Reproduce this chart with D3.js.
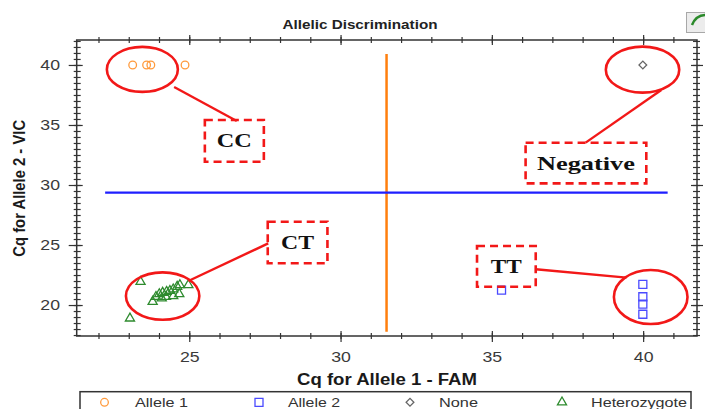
<!DOCTYPE html>
<html><head><meta charset="utf-8">
<script src="https://cdn.jsdelivr.net/npm/d3@7/dist/d3.min.js"></script>
<style>html,body{margin:0;padding:0;background:#fff;overflow:hidden}</style>
</head><body><svg id="c" width="705" height="409"></svg>
<script>
// ---------------- data ----------------
const seriesNames = ["Allele 1", "Allele 2", "None", "Heterozygote"];
const allele1X = [23.13, 23.59, 23.73, 24.86];
const allele1Y = [40.0, 40.0, 40.0, 40.0];
const allele2X = [35.32, 39.99, 39.99, 39.99, 39.99];
const allele2Y = [21.25, 21.72, 20.69, 20.08, 19.23];
const noneX = [39.99];
const noneY = [40.0];
const hetX = [23.39, 23.04, 23.79, 23.90, 24.01, 24.12, 24.25, 24.36, 24.47, 24.60, 24.69, 24.97, 24.09, 24.47, 24.67, 24.23];
const hetY = [21.94, 18.89, 20.28, 20.69, 20.92, 21.03, 21.11, 21.19, 21.31, 21.53, 21.67, 21.67, 20.56, 20.75, 20.92, 20.69];
const xTicks = [25, 30, 35, 40];
const yTicks = [20, 25, 30, 35, 40];
const famThreshold = 31.52;   // vertical call line
const vicThreshold = 29.36;   // horizontal call line
const title = "Allelic Discrimination";
const xTitle = "Cq for Allele 1 - FAM";
const yTitle = "Cq for Allele 2 - VIC";
// annotations (data coordinates)
const annotLabels = ["CC", "Negative", "CT", "TT"];
const annotCircleX = [23.45, 39.98, 24.12, 40.25];
const annotCircleY = [39.63, 39.61, 20.75, 20.67];
const annotBoxX = [26.49, 38.11, 28.58, 35.48];
const annotBoxY = [33.68, 31.83, 25.21, 23.22];
const annotLineX1 = [24.50, 40.60, 24.97, 36.45];
const annotLineY1 = [38.17, 37.92, 22.00, 22.98];
const annotLineX2 = [26.57, 38.10, 27.61, 39.45];
const annotLineY2 = [35.33, 33.53, 25.14, 22.28];

// ---------------- layout ----------------
const svg = d3.select("#c");
const L = 76.7, R = 697, T = 40, B = 336;
const x = d3.scaleLinear().domain([21.28, 41.78]).range([L, R]);
const y = d3.scaleLinear().domain([17.42, 42.08]).range([B, T]);
const axisCol = "#333";
const sans = "'Liberation Sans', Arial, sans-serif";
const serif = "'Liberation Serif', 'Times New Roman', serif";

function stretch(sel, f) {
  sel.each(function () {
    const w = this.getComputedTextLength();
    this.setAttribute("textLength", w * f);
    this.setAttribute("lengthAdjust", "spacingAndGlyphs");
  });
}
function fixW(sel, w) {
  sel.attr("textLength", w).attr("lengthAdjust", "spacingAndGlyphs");
}

// title
svg.append("text").attr("x", 360).attr("y", 29.3).attr("text-anchor", "middle")
  .attr("font-family", sans).attr("font-weight", "bold").attr("font-size", 13)
  .attr("fill", "#222").text(title).call(fixW, 155);

// top-right icon
svg.append("rect").attr("x", 686.5).attr("y", 12.5).attr("width", 22).attr("height", 20)
  .attr("fill", "#ececec").attr("stroke", "#a8a8a8");
svg.append("path").attr("d", "M692,25 Q696,15 706,15").attr("fill", "none")
  .attr("stroke", "#2b8a2b").attr("stroke-width", 2.5);

// ticks
const xMinor = d3.range(22, 42, 1);
const yMinor = d3.range(17.5, 42.01, 0.5);
function tickAxis(axis, tx, ty) {
  const g = svg.append("g").attr("transform", `translate(${tx},${ty})`).call(axis);
  g.select(".domain").remove();
  g.selectAll("line").attr("stroke", axisCol).attr("stroke-width", 1.2);
  return g;
}
// bottom
tickAxis(d3.axisBottom(x).tickValues(xMinor).tickSize(3).tickFormat(""), 0, B);
tickAxis(d3.axisTop(x).tickValues(xMinor).tickSize(3).tickFormat(""), 0, B);
tickAxis(d3.axisTop(x).tickValues(xTicks).tickSize(5).tickFormat(""), 0, B);
const gxb = tickAxis(d3.axisBottom(x).tickValues(xTicks).tickSize(6).tickPadding(9.4), 0, B);
// top
tickAxis(d3.axisTop(x).tickValues(xMinor).tickSize(3).tickFormat(""), 0, T);
tickAxis(d3.axisBottom(x).tickValues(xMinor).tickSize(3).tickFormat(""), 0, T);
tickAxis(d3.axisTop(x).tickValues(xTicks).tickSize(5).tickFormat(""), 0, T);
tickAxis(d3.axisBottom(x).tickValues(xTicks).tickSize(5).tickFormat(""), 0, T);
// left
tickAxis(d3.axisRight(y).tickValues(yMinor).tickSize(4).tickFormat(""), L, 0);
tickAxis(d3.axisLeft(y).tickValues(yMinor).tickSize(3).tickFormat(""), L, 0);
tickAxis(d3.axisRight(y).tickValues(yTicks).tickSize(6).tickFormat(""), L, 0);
const gyl = tickAxis(d3.axisLeft(y).tickValues(yTicks).tickSize(8).tickPadding(8.7), L, 0);
// right
tickAxis(d3.axisRight(y).tickValues(yMinor).tickSize(3).tickFormat(""), R, 0);
tickAxis(d3.axisLeft(y).tickValues(yMinor).tickSize(4).tickFormat(""), R, 0);
tickAxis(d3.axisRight(y).tickValues(yTicks).tickSize(6).tickFormat(""), R, 0);
tickAxis(d3.axisLeft(y).tickValues(yTicks).tickSize(6).tickFormat(""), R, 0);

[gxb, gyl].forEach(g => {
  g.selectAll("text").attr("font-family", sans).attr("font-size", 15)
    .attr("fill", "#3a3a3a").call(stretch, 1.18);
});

// frame
svg.append("rect").attr("x", L).attr("y", T).attr("width", R - L).attr("height", B - T)
  .attr("fill", "none").attr("stroke", axisCol).attr("stroke-width", 1.5);

// axis titles
svg.append("text").attr("x", 387).attr("y", 385).attr("text-anchor", "middle")
  .attr("font-family", sans).attr("font-weight", "bold").attr("font-size", 16)
  .attr("fill", "#1a1a1a").text(xTitle).call(fixW, 180);
svg.append("text").attr("transform", `translate(25,188.3) rotate(-90) scale(1,1.2)`)
  .attr("text-anchor", "middle")
  .attr("font-family", sans).attr("font-weight", "bold").attr("font-size", 14.5)
  .attr("fill", "#1a1a1a").text(yTitle).call(fixW, 136.7);

// call threshold lines
svg.append("line").attr("x1", x(famThreshold)).attr("x2", x(famThreshold))
  .attr("y1", y(17.78)).attr("y2", y(40.92))
  .attr("stroke", "#ff7f0e").attr("stroke-width", 2.5);
svg.append("line").attr("x1", x(22.22)).attr("x2", x(40.81))
  .attr("y1", y(vicThreshold)).attr("y2", y(vicThreshold))
  .attr("stroke", "#1f1fff").attr("stroke-width", 2.3);

// markers
const colors = ["#ff9a3c", "#4a4aff", "#666666", "#2e8b2e"];
const sym = {
  circle: d3.symbol().type(d3.symbolCircle).size(46),
  square: d3.symbol().type(d3.symbolSquare).size(64),
  diamond: d3.symbol().type(d3.symbolSquare).size(30),
  triangle: d3.symbol().type(d3.symbolTriangle).size(36)
};
const series = [
  { xs: allele1X, ys: allele1Y, s: sym.circle, rot: 0 },
  { xs: allele2X, ys: allele2Y, s: sym.square, rot: 0 },
  { xs: noneX, ys: noneY, s: sym.diamond, rot: 45 },
  { xs: hetX, ys: hetY, s: sym.triangle, rot: 0 }
];
series.forEach((sr, i) => {
  svg.append("g").selectAll("path").data(sr.xs.map((v, j) => [v, sr.ys[j]]))
    .join("path").attr("d", sr.s())
    .attr("transform", d => `translate(${x(d[0])},${y(d[1])}) rotate(${sr.rot})`)
    .attr("fill", "none").attr("stroke", colors[i]).attr("stroke-width", 1.3);
});

// annotations
const red = "#f21818";
const circR = [[35.5, 22.5], [36.7, 23], [36.7, 23.7], [36.8, 27]];
const boxWH = [[59, 41.7], [120.7, 40.6], [59.7, 41.6], [58.7, 40.7]];
const labW = [35, 98, 33, 31];
const ag = svg.append("g");
annotLabels.forEach((lab, i) => {
  ag.append("ellipse").attr("cx", x(annotCircleX[i])).attr("cy", y(annotCircleY[i]))
    .attr("rx", circR[i][0]).attr("ry", circR[i][1])
    .attr("fill", "none").attr("stroke", red).attr("stroke-width", 2.6);
  ag.append("line").attr("x1", x(annotLineX1[i])).attr("y1", y(annotLineY1[i]))
    .attr("x2", x(annotLineX2[i])).attr("y2", y(annotLineY2[i]))
    .attr("stroke", red).attr("stroke-width", 2.4);
  const cx = x(annotBoxX[i]), cy = y(annotBoxY[i]);
  ag.append("rect").attr("x", cx - boxWH[i][0] / 2).attr("y", cy - boxWH[i][1] / 2)
    .attr("width", boxWH[i][0]).attr("height", boxWH[i][1])
    .attr("fill", "none").attr("stroke", red).attr("stroke-width", 2.6)
    .attr("stroke-dasharray", "8,5");
  ag.append("text").attr("x", cx).attr("y", cy + 6.5).attr("text-anchor", "middle")
    .attr("font-family", serif).attr("font-weight", "bold").attr("font-size", 19.5)
    .attr("fill", "#111").text(lab).call(fixW, labW[i]);
});

// legend
svg.append("rect").attr("x", 80).attr("y", 391.7).attr("width", 611).attr("height", 30)
  .attr("fill", "#fff").attr("stroke", axisCol).attr("stroke-width", 1.5);
const legSymX = [104.5, 259, 410, 562];
const legTextX = [135, 288, 439, 591];
const legTextW = [53, 52, 39, 96];
seriesNames.forEach((n, i) => {
  svg.append("path").attr("d", series[i].s())
    .attr("transform", `translate(${legSymX[i]},402.3) rotate(${series[i].rot})`)
    .attr("fill", "none").attr("stroke", colors[i]).attr("stroke-width", 1.3);
  svg.append("text").attr("x", legTextX[i]).attr("y", 407.3)
    .attr("font-family", sans).attr("font-size", 13.5).attr("fill", "#333")
    .text(n).call(fixW, legTextW[i]);
});
</script></body></html>
